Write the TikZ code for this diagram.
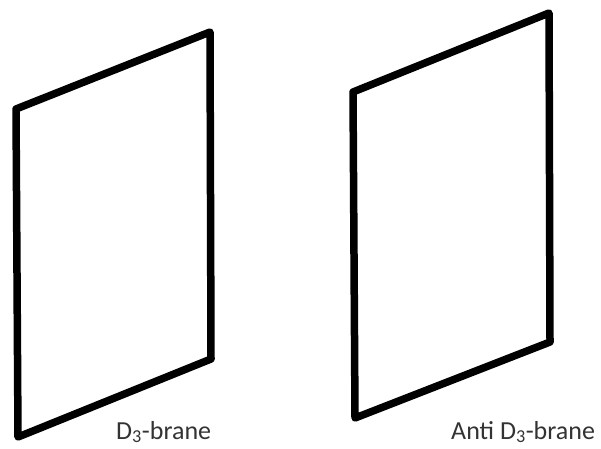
\documentclass[tikz,border=0pt]{standalone}
\usepackage{fontspec}
\setmainfont{Carlito}
\begin{document}
\begin{tikzpicture}[x=1pt,y=-1pt,
  brane/.style={line width=7.5pt,line join=round,line cap=round,draw=black},
  lbl/.style={anchor=base west,inner sep=0pt,font=\fontsize{26}{29}\selectfont,text=black!80}]
\useasboundingbox (0,0) rectangle (601,448);
\coordinate (a1) at (16,109);
\coordinate (b1) at (210,32);
\coordinate (c1) at (211,359);
\coordinate (d1) at (18,437);
\coordinate (a2) at (353,92);
\coordinate (b2) at (549,13);
\coordinate (c2) at (550,342);
\coordinate (d2) at (355,418);
\draw[brane] (a1) -- (b1) -- (c1) -- (d1) -- cycle;
\draw[brane] (a2) -- (b2) -- (c2) -- (d2) -- cycle;
\node[lbl] (l1) at (116,439) {D\textsubscript{3}-brane};
\node[lbl] (l2) at (451,439) {Anti D\textsubscript{3}-brane};
\end{tikzpicture}
\end{document}
